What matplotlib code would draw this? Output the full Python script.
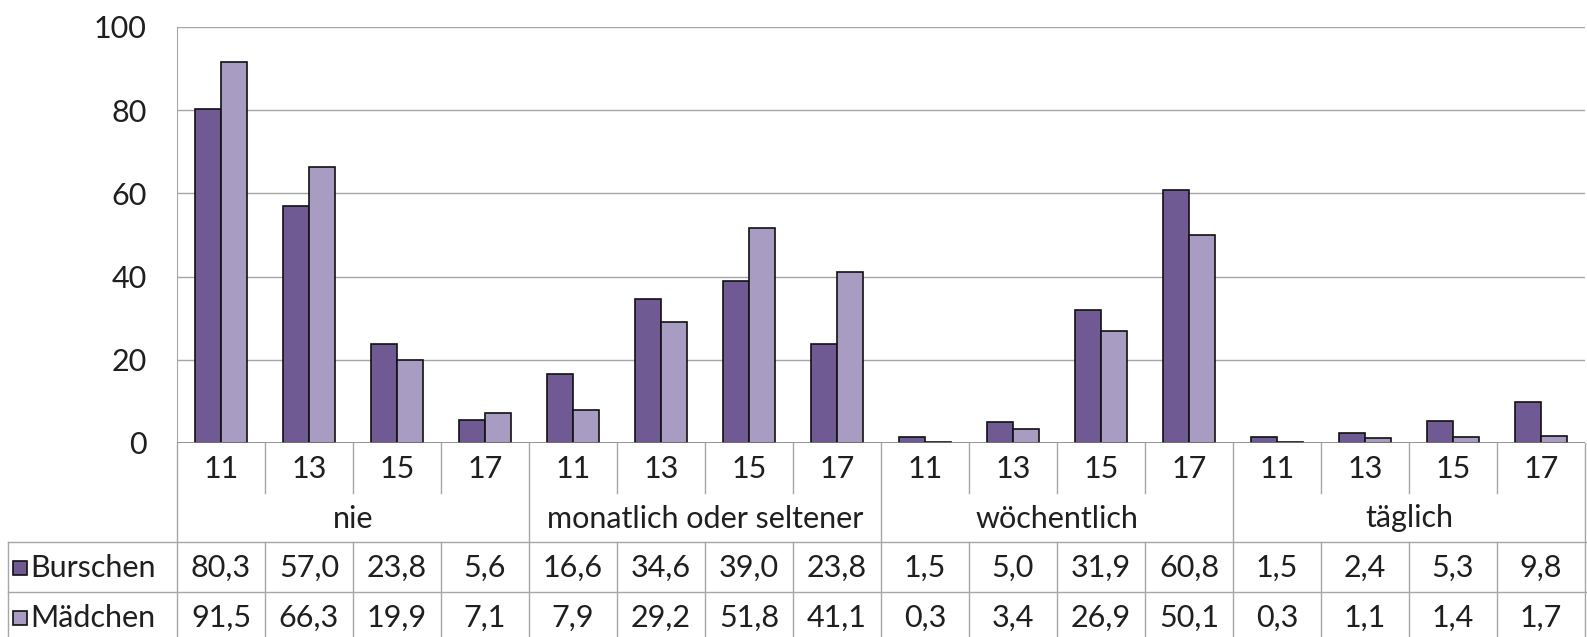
import matplotlib
matplotlib.use("Agg")
import matplotlib.pyplot as plt
import numpy as np

plt.rcParams['font.family'] = ['Lato', 'DejaVu Sans']

groups = ["nie", "monatlich oder seltener", "wöchentlich", "täglich"]
ages = ["11", "13", "15", "17"]
series_names = ["Burschen", "Mädchen"]
burschen = [80.3, 57.0, 23.8, 5.6, 16.6, 34.6, 39.0, 23.8, 1.5, 5.0, 31.9, 60.8, 1.5, 2.4, 5.3, 9.8]
maedchen = [91.5, 66.3, 19.9, 7.1, 7.9, 29.2, 51.8, 41.1, 0.3, 3.4, 26.9, 50.1, 0.3, 1.1, 1.4, 1.7]
yticks = [0, 20, 40, 60, 80, 100]

colors = ["#6f5a93", "#a99cc3"]
grid_c = "#a6a6a6"
text_c = "#1f1f1f"
fs = 22

W, H = 1587, 637
fig = plt.figure(figsize=(W / 100, H / 100), dpi=100)

# pixel layout
x_left, x_right = 177, 1585
y_top, y_zero = 27, 443
ax = fig.add_axes([x_left / W, (H - y_zero) / H, (x_right - x_left) / W, (y_zero - y_top) / H])
n = len(burschen)
x = np.arange(n)
bw = 0.295
ax.bar(x - bw / 2, burschen, width=bw, color=colors[0], edgecolor="#111111", linewidth=1.2, zorder=3)
ax.bar(x + bw / 2, maedchen, width=bw, color=colors[1], edgecolor="#111111", linewidth=1.2, zorder=3)
ax.set_xlim(-0.5, n - 0.5)
ax.set_ylim(0, 100)
ax.set_yticks(yticks)
ax.set_yticklabels([str(v) for v in yticks], fontsize=fs, color=text_c)
ax.tick_params(axis='y', length=0, pad=22)
ax.set_xticks([])
for v in yticks[1:]:
    ax.axhline(v, color=grid_c, lw=1.0, zorder=1)
for s in ["top", "right", "bottom"]:
    ax.spines[s].set_visible(False)
ax.spines["left"].set_color(grid_c)
ax.axhline(0, color="#808080", lw=1.2, zorder=4)

# table axes in pixel-like coordinates (x in data units matching main axes)
upx = (x_right - x_left) / n
tax = fig.add_axes([0, 0, 1, (H - y_zero) / H])
tax.set_xlim(-0.5 - x_left / upx, n - 0.5 + (W - x_right) / upx)
tax.set_ylim(H, y_zero)
tax.axis("off")

r1, r2, r3 = 493, 542, 592
leg_left = 8
# age labels
for i in range(n):
    tax.text(i, (y_zero + r1) / 2 + 1, ages[i % 4], ha="center", va="center", fontsize=fs, color=text_c)
# group labels
for g, name in enumerate(groups):
    tax.text(g * 4 + 1.5, (r1 + r2) / 2 + 1, name, ha="center", va="center", fontsize=fs, color=text_c)
# verticals
for i in range(n + 1):
    xb = i - 0.5
    if i % 4 == 0:
        tax.plot([xb, xb], [y_zero, H], color=grid_c, lw=1.0)
    else:
        tax.plot([xb, xb], [y_zero, r1], color=grid_c, lw=1.0)
        tax.plot([xb, xb], [r2, H], color=grid_c, lw=1.0)
xl = -0.5 - (x_left - leg_left) / upx
tax.plot([xl, xl], [r2, H], color=grid_c, lw=1.0)
for yy in (r2, r3):
    tax.plot([xl, n + 1], [yy, yy], color=grid_c, lw=1.0)

# data rows
rows = [burschen, maedchen]
row_c = [(r2 + r3) / 2 + 1, (r3 + H + 5) / 2 + 1]
for k, vals in enumerate(rows):
    for i, v in enumerate(vals):
        tax.text(i, row_c[k], f"{v:.1f}".replace(".", ","), ha="center", va="center", fontsize=fs, color=text_c)
    sq = 14 / upx
    sx = xl + 5 / upx
    tax.add_patch(plt.Rectangle((sx, row_c[k] - 7), sq, 14, facecolor=colors[k], edgecolor="#111111", lw=1.2))
    tax.text(sx + sq + 3 / upx, row_c[k], series_names[k], ha="left", va="center", fontsize=fs, color=text_c)

fig.savefig("out.png", dpi=100)
